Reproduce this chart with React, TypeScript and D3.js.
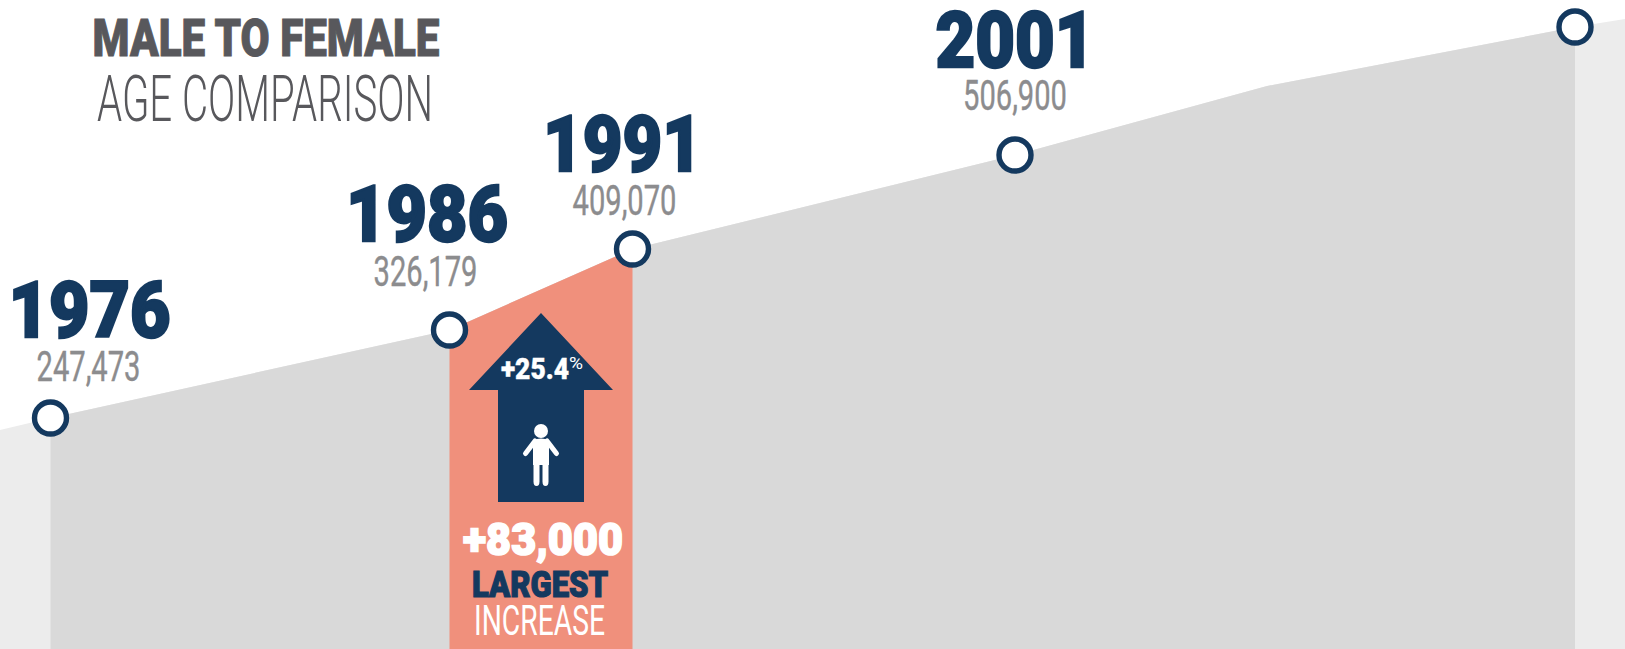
import React from "react";
import * as d3 from "d3";

// Data
const years = [1975, 1976, 1986, 1991, 2001, 2006, 2016, 2017];
const populations = [236000, 247473, 326179, 409070, 506900, 578000, 640000, 647000];
const labelledYears = [1976, 1986, 1991, 2001];
const markerYears = [1976, 1986, 1991, 2001, 2016];
const highlightYears = [1986, 1991];
const mainYears = [1976, 1986, 1991, 2001, 2006, 2016];
const titleBold = "MALE TO FEMALE";
const titleLight = "AGE COMPARISON";
const increaseValue = "+83,000";
const increasePct = "+25.4";
const increaseWord1 = "LARGEST";
const increaseWord2 = "INCREASE";

const W = 1625;
const H = 649;
const NAVY = "#14395f";
const GREY = "#d9d9d9";
const LIGHT = "#ececec";
const SALMON = "#f0907c";

// Chart axis is hand-drawn in the source, so the scales are piecewise
const x = d3.scaleLinear().domain(years).range([0, 50.5, 449.5, 632.5, 1015, 1267, 1575, 1625]);
const y = d3.scaleLinear().domain(populations).range([430, 418, 330, 249, 155, 86, 27, 19]);

const rows = years.map((yr, i) => ({ yr, v: populations[i] }));
const area = d3
  .area<{ yr: number; v: number }>()
  .x((d) => x(d.yr))
  .y0(H)
  .y1((d) => y(d.v));

const labelLayout: Record<number, { yearCx: number; yearBase: number; yearW: number; valCx: number; valBase: number }> = {
  1976: { yearCx: 89.5, yearBase: 337, yearW: 162, valCx: 88.5, valBase: 381 },
  1986: { yearCx: 427, yearBase: 241, yearW: 162, valCx: 425.5, valBase: 286 },
  1991: { yearCx: 622.5, yearBase: 171, yearW: 159, valCx: 624.5, valBase: 215 },
  2001: { yearCx: 1015, yearBase: 67, yearW: 159, valCx: 1015, valBase: 110 },
};

const HEAVY = "Roboto, sans-serif";

function Fit(props: {
  x: number; y: number; w: number; size: number; fill: string; weight: number; stroke?: number; children: React.ReactNode;
}) {
  const { x: cx, y: by, w, size, fill, weight, stroke, children } = props;
  return (
    <text
      x={cx}
      y={by}
      textAnchor="middle"
      textLength={w}
      lengthAdjust="spacingAndGlyphs"
      fontFamily={HEAVY}
      fontSize={size}
      fontWeight={weight}
      fill={fill}
      stroke={stroke ? fill : undefined}
      strokeWidth={stroke}
    >
      {children}
    </text>
  );
}

export default function App() {
  const fmt = d3.format(",");
  const valueOf = (yr: number) => populations[years.indexOf(yr)];
  const arrow = "M541 313 L613 390 L584 390 L584 502 L498 502 L498 390 L469 390 Z";
  return (
    <svg
      width={W}
      height={H}
      viewBox={`0 0 ${W} ${H}`}
      style={{ position: "absolute", left: 0, top: 0, display: "block", background: "#fff" }}
    >
      <path d={area(rows) as string} fill={LIGHT} />
      <path d={area(rows.filter((r) => mainYears.includes(r.yr))) as string} fill={GREY} />
      <path d={area(rows.filter((r) => highlightYears.includes(r.yr))) as string} fill={SALMON} />

      <Fit x={266} y={56} w={347} size={52} fill="#58585c" weight={900} stroke={1}>{titleBold}</Fit>
      <Fit x={265} y={121} w={336} size={65} fill="#58585c" weight={300}>{titleLight}</Fit>

      {labelledYears.map((yr) => {
        const l = labelLayout[yr];
        return (
          <g key={yr}>
            <Fit x={l.yearCx} y={l.yearBase} w={l.yearW} size={78} fill={NAVY} weight={900} stroke={2.4}>{yr}</Fit>
            <Fit x={l.valCx} y={l.valBase} w={104} size={42} fill="#8c8c8e" weight={400} stroke={0.4}>{fmt(valueOf(yr))}</Fit>
          </g>
        );
      })}

      {markerYears.map((yr) => (
        <circle key={yr} cx={x(yr)} cy={y(valueOf(yr))} r={16} fill="#fff" stroke={NAVY} strokeWidth={5.4} />
      ))}

      <path d={arrow} fill={NAVY} />
      <Fit x={535} y={379} w={68} size={30} fill="#fff" weight={900} stroke={0.4}>{increasePct}</Fit>
      <Fit x={576} y={369} w={14} size={16} fill="#fff" weight={400}>%</Fit>

      <g fill="#fff" stroke="none">
        <circle cx={541} cy={431} r={7} />
        <path d="M533 440 Q541 437 549 440 L549 465 L533 465 Z" />
        <path d="M533.5 467 L533.5 481.5 Q533.5 486 536.5 486 Q539.5 486 539.5 481.5 L539.5 465 L533.5 465 Z" />
        <path d="M542.5 465 L542.5 481.5 Q542.5 486 545.5 486 Q548.5 486 548.5 481.5 L548.5 465 Z" />
      </g>
      <g stroke="#fff" strokeWidth={5} strokeLinecap="round" fill="none">
        <path d="M535 441 L525.5 453.5" />
        <path d="M547 441 L556.5 453.5" />
      </g>

      <Fit x={543} y={555} w={160} size={44} fill="#fff" weight={900} stroke={1.6}>{increaseValue}</Fit>
      <Fit x={540} y={597} w={136} size={36} fill={NAVY} weight={900} stroke={1.2}>{increaseWord1}</Fit>
      <Fit x={539.5} y={635} w={131} size={42} fill="#fff" weight={400}>{increaseWord2}</Fit>
    </svg>
  );
}
